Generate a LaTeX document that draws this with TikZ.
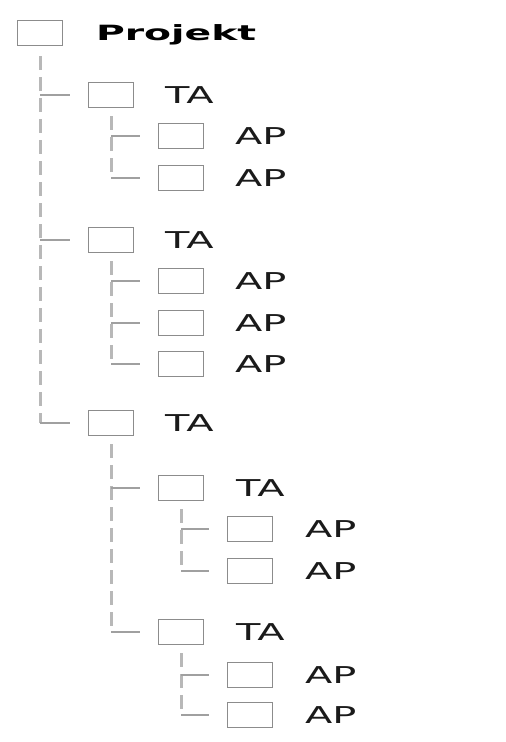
\documentclass[tikz,border=0pt]{standalone}
\usepackage{fontspec}
\setmainfont{DejaVu Sans}
\usepackage{tikz}
\usetikzlibrary{positioning}
\definecolor{boxgray}{HTML}{8c8c8c}
\definecolor{linegray}{HTML}{b8b8b8}
\definecolor{stubgray}{HTML}{a0a0a0}
\definecolor{textdark}{HTML}{1a1a1a}
\tikzstyle{pbox} = [rectangle, draw=boxgray, line width=0.85pt, minimum width=22.5pt,
  minimum height=12.5pt, inner sep=0pt]
\tikzstyle{lbl} = [inner sep=0pt, text height=8.5pt, text depth=0pt, text=textdark,
  font=\fontsize{11.6}{14}\selectfont, xscale=1.72, transform shape]
\tikzstyle{plbl} = [inner sep=0pt, text height=7.5pt, text depth=0pt, text=black,
  font=\fontsize{10.5}{13}\selectfont\bfseries, xscale=1.87, transform shape]
\tikzstyle{vline} = [draw=linegray, line width=1.5pt, dash pattern=on 7pt off 3.5pt]
\tikzstyle{hline} = [draw=stubgray, line width=0.9pt, shorten >=9pt]

\begin{document}
\begin{tikzpicture}[x=0.5pt, y=-0.5pt]
  \useasboundingbox (0,0) rectangle (506,742);

  % Projekt
  \node (proj) [pbox] at (40,33) {};
  \node (lproj) [plbl, right=16pt of proj] {Projekt};

  % TA 1
  \node (ta1) [pbox] at (111,95) {};
  \node (lta1) [lbl, right=15pt of ta1] {TA};
  \node (ap11) [pbox] at (181,136) {};
  \node (lap11) [lbl, right=15pt of ap11] {AP};
  \node (ap12) [pbox] at (181,178) {};
  \node (lap12) [lbl, right=15pt of ap12] {AP};

  % TA 2
  \node (ta2) [pbox] at (111,240) {};
  \node (lta2) [lbl, right=15pt of ta2] {TA};
  \node (ap21) [pbox] at (181,281) {};
  \node (lap21) [lbl, right=15pt of ap21] {AP};
  \node (ap22) [pbox] at (181,323) {};
  \node (lap22) [lbl, right=15pt of ap22] {AP};
  \node (ap23) [pbox] at (181,364) {};
  \node (lap23) [lbl, right=15pt of ap23] {AP};

  % TA 3 with sub-TAs
  \node (ta3) [pbox] at (111,423) {};
  \node (lta3) [lbl, right=15pt of ta3] {TA};
  \node (ta31) [pbox] at (181,488) {};
  \node (lta31) [lbl, right=15.5pt of ta31] {TA};
  \node (ap311) [pbox] at (250,529) {};
  \node (lap311) [lbl, right=15.5pt of ap311] {AP};
  \node (ap312) [pbox] at (250,571) {};
  \node (lap312) [lbl, right=15.5pt of ap312] {AP};
  \node (ta32) [pbox] at (181,632) {};
  \node (lta32) [lbl, right=15.5pt of ta32] {TA};
  \node (ap321) [pbox] at (250,675) {};
  \node (lap321) [lbl, right=15.5pt of ap321] {AP};
  \node (ap322) [pbox] at (250,715) {};
  \node (lap322) [lbl, right=15.5pt of ap322] {AP};

  % Tree lines
  \draw[vline, shorten <=5pt] (proj.south) -- (proj |- ta3);
  \draw[hline] (proj |- ta1) -- (ta1);
  \draw[hline] (proj |- ta2) -- (ta2);
  \draw[hline] (proj |- ta3) -- (ta3);

  \draw[vline, shorten <=4pt] (ta1.south) -- (ta1 |- ap12);
  \draw[hline] (ta1 |- ap11) -- (ap11);
  \draw[hline] (ta1 |- ap12) -- (ap12);

  \draw[vline, shorten <=4pt] (ta2.south) -- (ta2 |- ap23);
  \draw[hline] (ta2 |- ap21) -- (ap21);
  \draw[hline] (ta2 |- ap22) -- (ap22);
  \draw[hline] (ta2 |- ap23) -- (ap23);

  \draw[vline, shorten <=4pt] (ta3.south) -- (ta3 |- ta32);
  \draw[hline] (ta3 |- ta31) -- (ta31);
  \draw[hline] (ta3 |- ta32) -- (ta32);

  \draw[vline, shorten <=4pt] (ta31.south) -- (ta31 |- ap312);
  \draw[hline] (ta31 |- ap311) -- (ap311);
  \draw[hline] (ta31 |- ap312) -- (ap312);

  \draw[vline, shorten <=4pt] (ta32.south) -- (ta32 |- ap322);
  \draw[hline] (ta32 |- ap321) -- (ap321);
  \draw[hline] (ta32 |- ap322) -- (ap322);
\end{tikzpicture}
\end{document}
